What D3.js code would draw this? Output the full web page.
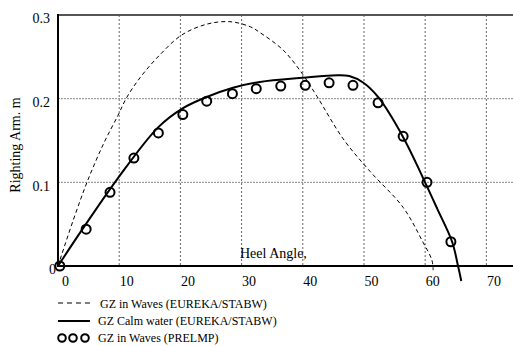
<!DOCTYPE html>
<html><head><meta charset="utf-8">
<script src="https://cdn.jsdelivr.net/npm/d3@7"></script>
<style>body{margin:0;background:#fff}svg{display:block}</style>
</head><body><svg id="c" width="513" height="346"></svg>
<script>
const xTicks = [0,10,20,30,40,50,60,70];
const yTicks = [0,0.1,0.2,0.3];
const wavesEurekaAngle = [0,2.5,4.9,7.5,9.8,11.2,13.4,16.6,20.2,24.3,28.1,31.4,33,36.8,40,42.3,46.6,51,56.4,59.6,61.1,61.3];
const wavesEurekaGZ   = [0,0.055,0.103,0.147,0.180,0.201,0.225,0.252,0.276,0.289,0.292,0.286,0.279,0.258,0.229,0.203,0.152,0.113,0.070,0.029,0.007,-0.005];
const calmAngle = [0,4,9.6,16.4,20.5,24.3,28.6,33,40,45.6,47.6,49.9,52.3,56.4,59.6,62,64.4,65.4,65.9];
const calmGZ    = [0,0.044,0.103,0.166,0.189,0.202,0.213,0.220,0.225,0.228,0.227,0.219,0.202,0.154,0.106,0.068,0.029,-0.001,-0.018];
const prelmpAngle = [0.3,4.6,8.5,12.4,16.4,20.4,24.3,28.5,32.4,36.4,40.4,44.3,48.2,52.3,56.4,60.3,64.2];
const prelmpGZ    = [0,0.044,0.088,0.129,0.159,0.181,0.197,0.206,0.212,0.215,0.216,0.219,0.216,0.195,0.155,0.100,0.029];
const legendLabels = ["GZ in Waves (EUREKA/STABW)","GZ Calm water (EUREKA/STABW)","GZ in Waves (PRELMP)"];

const FONT = "'Liberation Serif','Times New Roman',Tinos,'DejaVu Serif',serif";
const svg = d3.select("#c");
const L=58, R=513, T=15, B=266;
const x = d3.scaleLinear().domain([0,74.35]).range([L,R]);
const y = d3.scaleLinear().domain([0,0.3]).range([B,T]);

// grid
svg.append("g").selectAll("line").data(xTicks.filter(d=>d>0)).join("line")
  .attr("x1",d=>x(d)).attr("x2",d=>x(d)).attr("y1",T).attr("y2",B)
  .attr("stroke","#666").attr("stroke-width",1).attr("stroke-dasharray","2,2");
svg.append("g").selectAll("line").data(yTicks.filter(d=>d>0&&d<0.3)).join("line")
  .attr("x1",L).attr("x2",R).attr("y1",d=>y(d)).attr("y2",d=>y(d))
  .attr("stroke","#888").attr("stroke-width",1).attr("stroke-dasharray","2,1");
svg.append("line").attr("x1",L).attr("x2",R).attr("y1",T).attr("y2",T).attr("stroke","#555").attr("stroke-width",2);

// axes
const xa = svg.append("g").attr("transform",`translate(0,${B})`).call(d3.axisBottom(x).tickValues(xTicks).tickSize(0).tickPadding(0));
xa.attr("font-family",null).attr("font-size",null);
xa.select(".domain").remove();
xa.selectAll("text").style("font-family",FONT).style("font-size","14px").attr("dx",7).attr("dy",20).attr("fill","#000");
svg.append("line").attr("x1",L).attr("x2",R).attr("y1",B).attr("y2",B).attr("stroke","#000").attr("stroke-width",2);

const ya = svg.append("g").attr("transform",`translate(${L},0)`).call(d3.axisLeft(y).tickValues(yTicks).tickSize(0).tickPadding(8).tickFormat(d=>d===0?"0":d3.format(".1f")(d)));
ya.attr("font-family",null).attr("font-size",null);
ya.select(".domain").remove();
ya.selectAll("text").style("font-family",FONT).style("font-size","14px").attr("dy","0.55em").attr("fill","#000")
  .attr("x",d=>d===0?-2:-8);
svg.append("line").attr("x1",L).attr("x2",L).attr("y1",T-1).attr("y2",B+1).attr("stroke","#000").attr("stroke-width",2);

// axis titles
svg.append("text").attr("transform","translate(20,145) rotate(-90)").attr("text-anchor","middle")
  .style("font-family",FONT).style("font-size","14px").text("Righting Arm. m");
svg.append("text").attr("x",240).attr("y",258).style("font-family",FONT).style("font-size","14px").text("Heel Angle,");

// lines
const cr = d3.line().curve(d3.curveCatmullRom.alpha(0.5));
svg.append("path").attr("d",cr(wavesEurekaAngle.map((a,i)=>[x(a),y(wavesEurekaGZ[i])])))
  .attr("fill","none").attr("stroke","#000").attr("stroke-width",1).attr("stroke-dasharray","4,3");
svg.append("path").attr("d",cr(calmAngle.map((a,i)=>[x(a),y(calmGZ[i])])))
  .attr("fill","none").attr("stroke","#000").attr("stroke-width",2);
svg.append("g").selectAll("circle").data(prelmpAngle).join("circle")
  .attr("cx",d=>x(d)).attr("cy",(d,i)=>y(prelmpGZ[i])).attr("r",4.5)
  .attr("fill","none").attr("stroke","#000").attr("stroke-width",2);

// legend
const lg = svg.append("g");
lg.append("line").attr("x1",58).attr("x2",90).attr("y1",303).attr("y2",303).attr("stroke","#000").attr("stroke-width",1).attr("stroke-dasharray","5,4");
lg.append("line").attr("x1",58).attr("x2",90).attr("y1",321).attr("y2",321).attr("stroke","#000").attr("stroke-width",2);
lg.selectAll("circle").data([62,73,85]).join("circle").attr("cx",d=>d).attr("cy",338).attr("r",3.8)
  .attr("fill","none").attr("stroke","#000").attr("stroke-width",2);
lg.selectAll("text").data(legendLabels).join("text").attr("x",(d,i)=>i===0?100:98).attr("y",(d,i)=>307.5+i*17)
  .style("font-family",FONT).style("font-size","12px").text(d=>d);
</script></body></html>
